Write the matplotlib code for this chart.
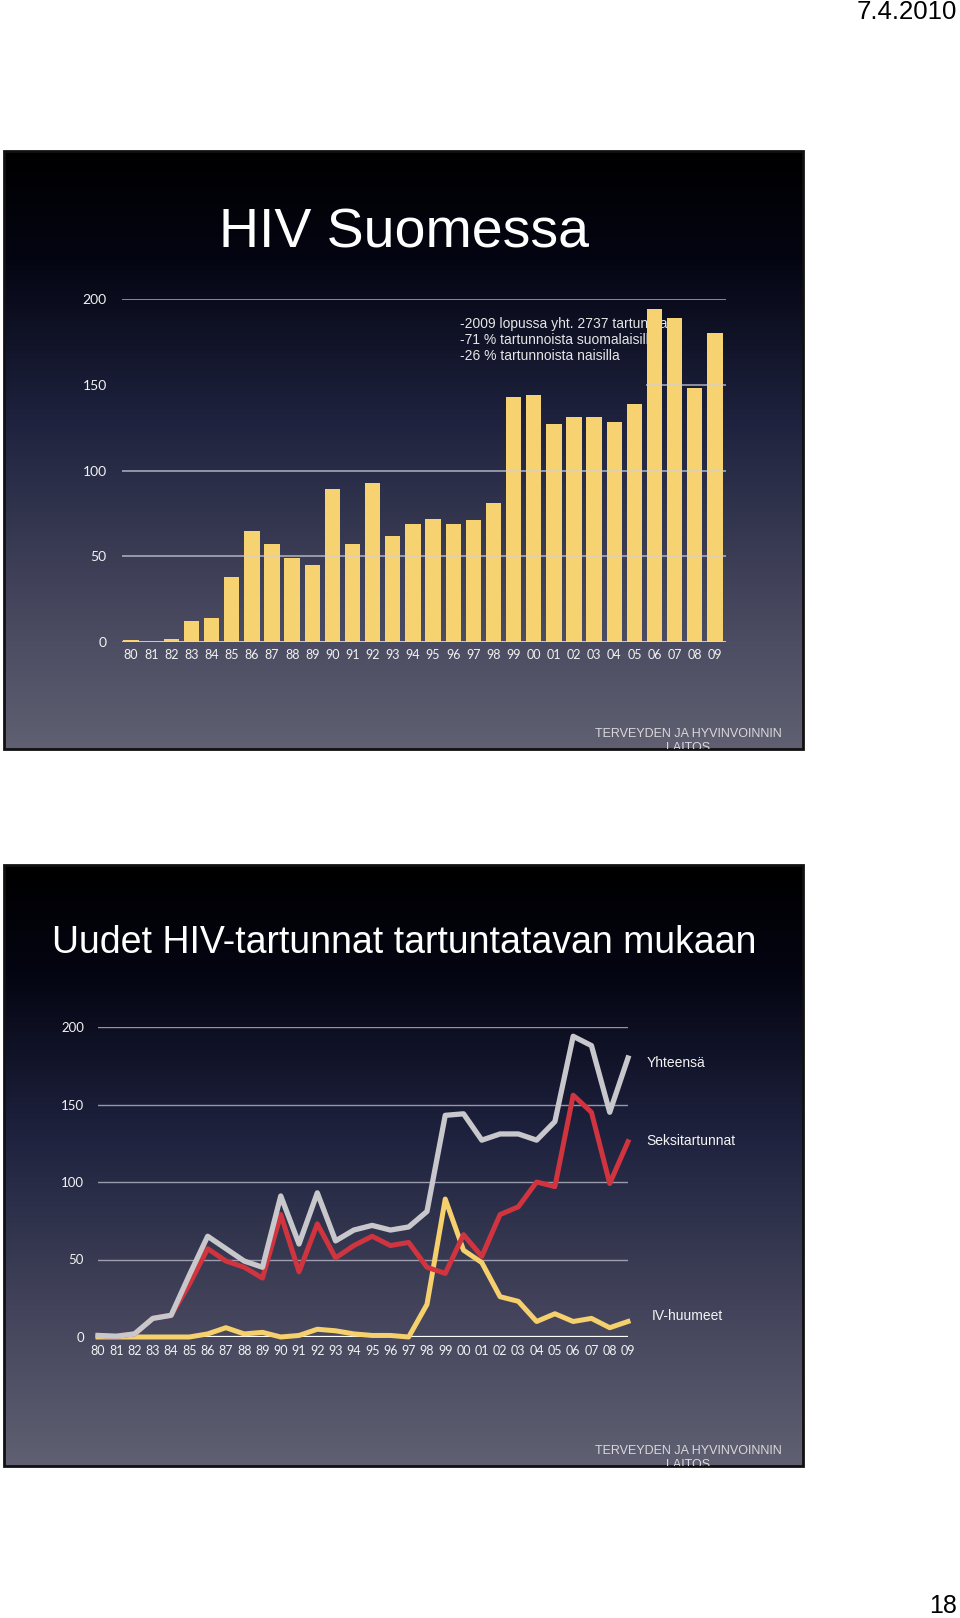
import numpy as np
import matplotlib
matplotlib.use('Agg')
import matplotlib.pyplot as plt
from matplotlib.patches import Rectangle

plt.rcParams['font.family'] = ['Liberation Sans', 'DejaVu Sans']

# Data
years = ['80', '81', '82', '83', '84', '85', '86', '87', '88', '89',
         '90', '91', '92', '93', '94', '95', '96', '97', '98', '99',
         '00', '01', '02', '03', '04', '05', '06', '07', '08', '09']
tartunnat = [1, 0, 2, 12, 14, 38, 65, 57, 49, 45,
             89, 57, 93, 62, 69, 72, 69, 71, 81, 143,
             144, 127, 131, 131, 128, 139, 194, 189, 148, 180]
yhteensa = [1, 0.5, 2, 12, 14, 40, 65, 57, 49, 45,
            91, 60, 93, 62, 69, 72, 69, 71, 81, 143,
            144, 127, 131, 131, 127, 139, 194, 188, 145, 180]
seksi = [1, 0.5, 2, 12, 14, 34, 57, 49, 45, 38,
         79, 42, 73, 51, 59, 65, 59, 61, 45, 41,
         66, 52, 79, 84, 100, 97, 156, 145, 99, 126]
iv = [0, 0, 0, 0, 0, 0, 2, 6, 2, 3,
      0, 1, 5, 4, 2, 1, 1, 0, 21, 89,
      56, 48, 26, 23, 10, 15, 10, 12, 6, 10]

W, H = 960, 1618
fig = plt.figure(figsize=(9.6, 16.18), dpi=100, facecolor='white')


def fx(px):
    return px / W


def fy(py):
    return 1 - py / H


# slide background gradient (top black -> bluish grey)
grad_pos = [0.0, 0.18, 0.45, 0.75, 1.0]
grad_col = np.array([[0, 0, 0], [4, 5, 18], [30, 34, 62], [68, 69, 92], [96, 96, 114]]) / 255.0


def slide(top, bottom, left=4, right=803):
    ax = fig.add_axes([fx(left), fy(bottom), fx(right - left), (bottom - top) / H])
    t = np.linspace(0, 1, 300)
    g = np.stack([np.interp(t, grad_pos, grad_col[:, k]) for k in range(3)], axis=-1)
    ax.imshow(g[:, None, :], aspect='auto', extent=[0, 1, 0, 1])
    ax.set_axis_off()
    ax.add_patch(Rectangle((0, 0), 1, 1, transform=ax.transAxes, fill=False,
                           edgecolor='#111111', lw=2, clip_on=False))
    # footer, second line cut off by the slide edge
    ax.text(0.856, 21 / (bottom - top), 'TERVEYDEN JA HYVINVOINNIN\nLAITOS',
            transform=ax.transAxes, ha='center', va='top', fontsize=9,
            color='#D8D8DC', linespacing=1.2, clip_on=True)
    return ax


slide(151, 749)
slide(865, 1466)

# ---- Slide 1: bar chart ----
fig.text(fx(404), fy(247), 'HIV Suomessa', ha='center', va='baseline',
         fontsize=40, color='white')

ax1 = fig.add_axes([fx(122), fy(642), fx(604), 343 / H])
ax1.set_facecolor('none')
x = np.arange(len(years))
ax1.bar(x, tartunnat, width=0.76, color='#F6D370', zorder=2)
for v in [50, 100, 200]:
    ax1.axhline(v, color='#D0D0D8', lw=1.2, alpha=0.75, zorder=3)
ax1.axhline(0, color='#D8D8DC', lw=2, zorder=3)
ax1.hlines(150, 25.6, 29.55, color='#D0D0D8', lw=1.2, alpha=0.75, zorder=3)
ax1.set_xlim(-0.45, 29.55)
ax1.set_ylim(0, 200)
ax1.set_xticks(x)
ax1.set_xticklabels(years)
ax1.set_yticks([0, 50, 100, 150, 200])
for s in ax1.spines.values():
    s.set_visible(False)
ax1.tick_params(axis='x', length=0, pad=5, labelsize=9, labelcolor='#F2F2F2')
ax1.tick_params(axis='y', length=0, pad=11, labelsize=10, labelcolor='#F2F2F2')
for lab in ax1.get_xticklabels() + ax1.get_yticklabels():
    lab.set_family('Lato')

ax1.text((460 - 122) / 604, (642 - 340) / 343,
         '-2009 lopussa yht. 2737 tartuntaa\n-71 % tartunnoista suomalaisilla\n-26 % tartunnoista naisilla',
         transform=ax1.transAxes, ha='left', va='center', fontsize=10,
         color='#E6E6E6', linespacing=1.22, zorder=1)

# ---- Slide 2: line chart ----
fig.text(fx(404), fy(953), 'Uudet HIV-tartunnat tartuntatavan mukaan',
         ha='center', va='baseline', fontsize=27, color='white')

ax2 = fig.add_axes([fx(98), fy(1337), fx(530), 310 / H])
ax2.set_facecolor('none')
for v in [50, 100, 150, 200]:
    ax2.axhline(v, color='#B8B8C4', lw=1, alpha=0.8, zorder=1)
ax2.axhline(0, color='white', lw=1.6, zorder=1)
ax2.plot(x, iv, color='#F5D06C', lw=3.6, clip_on=False, zorder=3)
ax2.plot(x, seksi, color='#D0343F', lw=3.6, clip_on=False, zorder=4)
ax2.plot(x, yhteensa, color='#C8C8CC', lw=3.8, clip_on=False, zorder=5)
ax2.set_xlim(0, 29)
ax2.set_ylim(0, 200)
ax2.set_xticks(x)
ax2.set_xticklabels(years)
ax2.set_yticks([0, 50, 100, 150, 200])
for s in ax2.spines.values():
    s.set_visible(False)
ax2.tick_params(axis='x', length=0, pad=6, labelsize=9, labelcolor='#F2F2F2')
ax2.tick_params(axis='y', length=0, pad=10, labelsize=9.5, labelcolor='#F2F2F2')
for lab in ax2.get_xticklabels() + ax2.get_yticklabels():
    lab.set_family('Lato')

fig.text(fx(647), fy(1063), 'Yhteensä', ha='left', va='center', fontsize=10, color='#F4F4F4')
fig.text(fx(646), fy(1141), 'Seksitartunnat', ha='left', va='center', fontsize=10, color='#F4F4F4')
fig.text(fx(652), fy(1316), 'IV-huumeet', ha='left', va='center', fontsize=10, color='#F4F4F4')

# page header / footer
fig.text(fx(957), fy(12), '7.4.2010', ha='right', va='center', fontsize=18.5, color='black')
fig.text(fx(957), fy(1606), '18', ha='right', va='center', fontsize=18, color='black')

fig.savefig('out.png', dpi=100, facecolor='white')
plt.close(fig)
